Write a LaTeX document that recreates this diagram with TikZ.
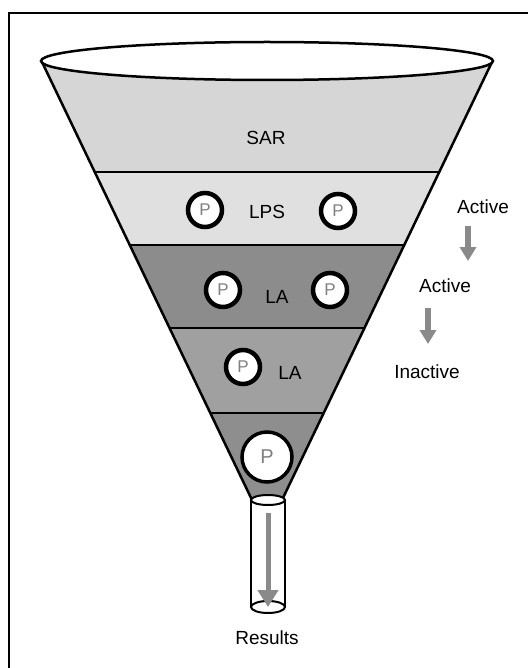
\documentclass[tikz,border=0pt]{standalone}
\usepackage{fontspec}
\setmainfont{Liberation Sans}
\usetikzlibrary{arrows.meta, math}
\definecolor{sargray}{RGB}{214,214,214}
\definecolor{lpsgray}{RGB}{224,224,224}
\definecolor{lagray}{RGB}{140,140,140}
\definecolor{labgray}{RGB}{160,160,160}
\definecolor{botgray}{RGB}{142,142,142}
\definecolor{arrgray}{RGB}{138,138,138}
\definecolor{pgray}{RGB}{128,128,128}

\begin{document}
\begin{tikzpicture}[x=1pt,y=-1pt,
  lbl/.style={font=\fontsize{19}{22}\selectfont, inner sep=0pt},
  pcirc/.style={circle, draw, line width=4.5pt, fill=white, minimum size=34pt,
    inner sep=0pt, text=pgray, font=\fontsize{17}{20}\selectfont},
  flow/.style={line width=6pt, arrgray, -{Triangle[width=16pt,length=14pt]}}]
\tikzmath{
\cx=267;
\ytop=62;
\ybot=500;
\hw=225;
\nw=15;
}
\useasboundingbox (0,0) rectangle (528,668);

% frame
\draw[line width=2pt] (9,668) -- (9,13) -- (528,13);

% funnel layers
\begin{scope}
\clip (\cx-\hw,\ytop) -- (\cx-\nw,\ybot) -- (\cx+\nw,\ybot) -- (\cx+\hw,\ytop) -- cycle;
\fill[sargray] (0,40) rectangle (528,172);
\fill[lpsgray] (0,172) rectangle (528,245);
\fill[lagray] (0,245) rectangle (528,328);
\fill[labgray] (0,328) rectangle (528,413);
\fill[botgray] (0,413) rectangle (528,510);
\foreach \yy in {172,245,328,413}
  \draw[line width=2.5pt] (0,\yy) -- (528,\yy);
\end{scope}
\draw[line width=2.5pt] (\cx-\hw,\ytop) -- (\cx-\nw,\ybot) (\cx+\nw,\ybot) -- (\cx+\hw,\ytop);
\draw[line width=2.5pt, fill=white] (\cx,61) ellipse [x radius=226, y radius=19];

% tube
\fill[white] (251,500) rectangle (285,607);
\draw[line width=2pt] (251,500) -- (251,607) (285,500) -- (285,607);
\draw[line width=2pt] (268,607) ellipse [x radius=17, y radius=6];
\draw[line width=2pt, fill=white] (268,500) ellipse [x radius=17, y radius=5];
\coordinate (ts) at (268,513);
\coordinate (te) at (268,607);
\draw[flow, line width=5pt, -{Triangle[width=20pt,length=17pt]}] (ts) -- (te);

% particles
\node[pcirc] (p1) at (205,210) {P};
\node[pcirc] (p2) at (338,211) {P};
\node[pcirc] (p3) at (223,290) {P};
\node[pcirc] (p4) at (330,290) {P};
\node[pcirc] (p5) at (243,367) {P};
\node[pcirc, minimum size=50pt, line width=3.5pt, font=\fontsize{20}{24}\selectfont] (p6) at (267,457) {P};

% labels
\node[lbl] (sar) at (266,138) {SAR};
\node[lbl] (lps) at (267,212) {LPS};
\node[lbl] (la) at (277,297) {LA};
\node[lbl] (lab) at (290,373) {LA};
\node[lbl] (act1) at (483,207) {Active};
\node[lbl] (act2) at (445,286) {Active};
\node[lbl] (inact) at (427,372) {Inactive};
\node[lbl] (res) at (267,638) {Results};

% activity arrows
\coordinate (a1s) at (468,226);
\coordinate (a1e) at (468,261);
\coordinate (a2s) at (428,308);
\coordinate (a2e) at (428,344);
\draw[flow] (a1s) -- (a1e);
\draw[flow] (a2s) -- (a2e);
\end{tikzpicture}
\end{document}
